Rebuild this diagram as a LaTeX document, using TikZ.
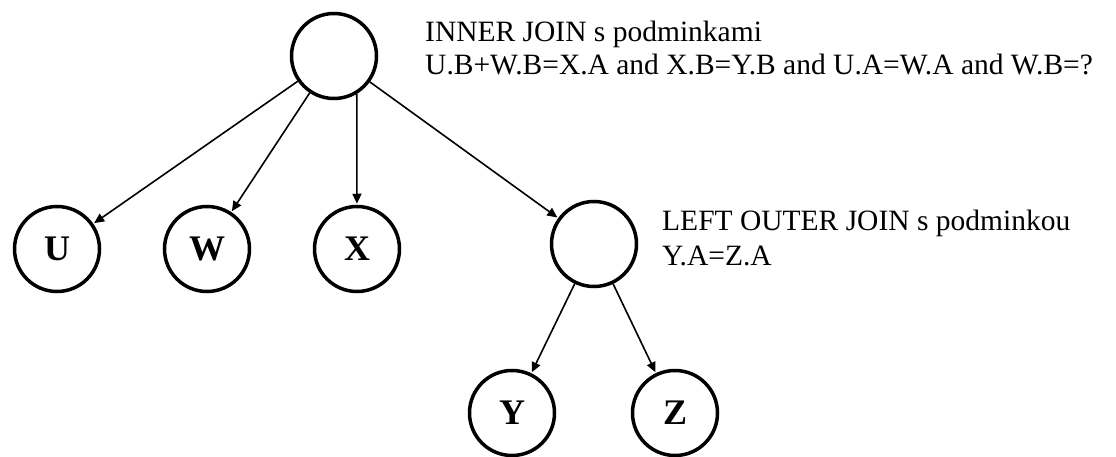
\documentclass[tikz,border=0pt]{standalone}
\usepackage{fontspec}
\setmainfont{Liberation Serif}
\usetikzlibrary{arrows.meta}
\begin{document}
\begin{tikzpicture}[x=1pt,y=-1pt,
  opnode/.style={circle,draw,line width=3.5pt,minimum size=85pt,inner sep=0pt,
    font=\fontsize{36}{36}\selectfont\bfseries},
  edge/.style={line width=1.6pt,-{Triangle[length=10pt,width=9pt]},shorten >=1pt},
  lbl/.style={anchor=base west,inner sep=0pt,font=\fontsize{29.5}{29.5}\selectfont}]
\useasboundingbox (0,0) rectangle (1116,457);
\node[opnode] (top) at (334,56) {};
\node[opnode] (U) at (57,249) {U};
\node[opnode] (W) at (207,249) {W};
\node[opnode] (X) at (357,249) {X};
\node[opnode] (R) at (594,244) {};
\node[opnode] (Y) at (512,413) {Y};
\node[opnode] (Z) at (675,413) {Z};
\draw[edge] (top) -- (U);
\draw[edge] (top) -- (W);
\draw[edge] (top.-59) -- (X);
\draw[edge] (top) -- (R);
\draw[edge] (R) -- (Y);
\draw[edge] (R) -- (Z);
\node[lbl] (t1) at (425,42) {INNER JOIN s podminkami};
\node[lbl] (t2) at (425,75) {U.B+W.B=X.A and X.B=Y.B and U.A=W.A and W.B=?};
\node[lbl] (t3) at (662,230) {LEFT OUTER JOIN s podminkou};
\node[lbl] (t4) at (662,265) {Y.A=Z.A};
\end{tikzpicture}
\end{document}
